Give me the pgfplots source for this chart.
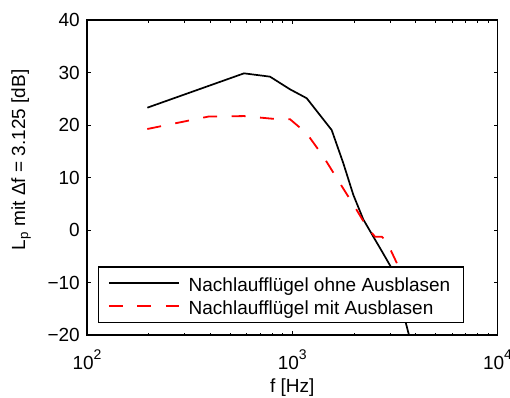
\documentclass[border=0pt]{standalone}
\usepackage{fontspec}
\setmainfont{Liberation Sans}
\usepackage{pgfplots}
\pgfplotsset{compat=1.18}
\newcommand\fs{\fontsize{19bp}{22bp}\selectfont}
\newcommand\tl[1]{10\raisebox{10.5bp}{\fontsize{14bp}{14bp}\selectfont #1}}
\begin{document}
\begin{tikzpicture}
\begin{axis}[name=ax, scale only axis, width=410.5bp, height=315bp,
  xmode=log, xmin=100, xmax=10000, ymin=-20, ymax=40,
  xtick={100,1000,10000}, xticklabels={\tl{2},\tl{3},\tl{4}},
  minor xtick={200,300,400,500,600,700,800,900,2000,3000,4000,5000,6000,7000,8000,9000},
  ytick={-20,-10,0,10,20,30,40}, yticklabels={−20,−10,0,10,20,30,40},
  tick align=inside, major tick length=4bp, minor tick length=2.5bp,
  axis line style={line width=1.2bp},
  every tick/.style={line width=0.9bp, black},
  tick label style={font=\fs},
  xticklabel style={anchor=base, yshift=-34.5bp},
  yticklabel style={anchor=east, inner sep=0pt, xshift=-7bp},
  xlabel={f [Hz]},
  xlabel style={at={(axis description cs:0.5,-0.184)}, anchor=base, font=\fs},
  ylabel={L\textsubscript{p} mit Δf = 3.125 [dB]},
  ylabel style={at={(axis description cs:-0.151,0.556)}, anchor=base, rotate=0, font=\fs},
  legend style={at={(0.0275,0.0371)}, anchor=south west, draw=black, line width=1.2bp,
    fill=white, inner xsep=9bp, inner ysep=4.9bp, font=\fs, row sep=0pt,
    nodes={inner xsep=4bp, inner ysep=2.75bp, text height=16.5bp, text depth=1bp}},
  legend cell align=left,
  legend image code/.code={\draw[#1] (0bp,0bp) -- (70bp,0bp); \path (75bp,0bp);},
]
\addplot[black, line width=1.7bp] coordinates {
(196.8,23.30) (582,29.84) (779,29.21) (975,26.8) (1176,25.1) (1556,19.05)
(1774,12.7) (1984,6.7) (2218,2.03) (2483,-1.27) (2757,-4.3) (3052,-7.3) (3830,-22.2)};
\addlegendentry{Nachlaufflügel ohne Ausblasen}
\addplot[red, line width=1.8bp, dash pattern=on 14bp off 14.5bp] coordinates {
(196.8,19.24) (390,21.6) (582,21.7) (797,21.2) (975,21.1) (1176,18.4) (1417,14.0)
(1708,8.9) (2061,3.8) (2305,0.63) (2530,-1.27) (2728,-1.27) (2885,-2.2) (3350,-7.6) (3750,-11)};
\addlegendentry{Nachlaufflügel mit Ausblasen}
\end{axis}
\pgfresetboundingbox
\useasboundingbox ([xshift=-87bp,yshift=-63bp]ax.south west) rectangle ([xshift=12.5bp,yshift=20bp]ax.north east);
\end{tikzpicture}
\end{document}
